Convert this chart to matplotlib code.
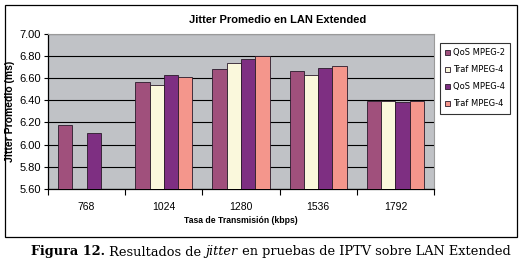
import matplotlib
matplotlib.use("Agg")
import matplotlib.pyplot as plt
import numpy as np
from matplotlib.patches import Rectangle

categories = ["768", "1024", "1280", "1536", "1792"]
series_names = ["QoS MPEG-2", "Traf MPEG-4", "QoS MPEG-4", "Traf MPEG-4"]
qos_mpeg2 = [6.18, 6.56, 6.68, 6.66, 6.39]
traf_mpeg4_a = [np.nan, 6.54, 6.73, 6.63, 6.39]
qos_mpeg4 = [6.10, 6.63, 6.77, 6.69, 6.38]
traf_mpeg4_b = [np.nan, 6.61, 6.80, 6.71, 6.39]
yticks = [5.60, 5.80, 6.00, 6.20, 6.40, 6.60, 6.80, 7.00]

colors = ["#A0507C", "#FAF8DC", "#7E2F82", "#F4968C"]
series = [qos_mpeg2, traf_mpeg4_a, qos_mpeg4, traf_mpeg4_b]

W, H = 523, 268
fig = plt.figure(figsize=(W / 100, H / 100), dpi=100)
fig.patch.set_facecolor("white")

# outer chart frame
fig.patches.append(Rectangle((5 / W, 1 - 237 / H), (517 - 5) / W, (237 - 5) / H,
                             transform=fig.transFigure, fill=False,
                             edgecolor="black", linewidth=0.9))

ax = fig.add_axes([48 / W, 1 - 189 / H, (434 - 48) / W, (189 - 33.5) / H])
ax.set_facecolor("#C0C2C6")
x = np.arange(len(categories))
bw = 0.185
for i, (vals, c, name) in enumerate(zip(series, colors, series_names)):
    pos = x + (i - 1.5) * bw
    ax.bar(pos, np.array(vals) - 5.6, bottom=5.6, width=bw, color=c,
           edgecolor="#2a1a2a", linewidth=0.6, label=name, zorder=3)

ax.set_ylim(5.6, 7.0)
ax.set_xlim(-0.5, len(categories) - 0.5)
ax.set_yticks(yticks)
ax.set_yticklabels([f"{v:.2f}" for v in yticks], fontsize=8, family="Liberation Sans")
ax.yaxis.grid(True, color="black", linewidth=0.8, zorder=1)
ax.set_axisbelow(True)
ax.set_xticks(x)
ax.set_xticklabels(categories, fontsize=7.5, family="Liberation Sans")
ax.tick_params(axis="x", length=0, pad=9)
ax.set_xticks(np.arange(len(categories) + 1) - 0.5, minor=True)
ax.tick_params(axis="x", which="minor", length=4, direction="out", width=0.8)
ax.tick_params(axis="y", length=3, direction="out", width=0.8, pad=2)
for s in ["top", "right"]:
    ax.spines[s].set_color("#9a9a9a")
    ax.spines[s].set_linewidth(0.8)
for s in ["left", "bottom"]:
    ax.spines[s].set_color("black")
    ax.spines[s].set_linewidth(0.9)

fig.text(278 / W, 1 - 20 / H, "Jitter Promedio en LAN Extended", fontsize=8,
         fontweight="bold", family="Liberation Sans", ha="center", va="center")
ax.set_xlabel("Tasa de Transmisión (kbps)", fontsize=6.2, fontweight="bold",
              family="Liberation Sans", labelpad=3)
ax.set_ylabel("Jitter Promedio (ms)", fontsize=7.5, fontweight="bold",
              family="Liberation Sans", labelpad=3)

leg = fig.legend(loc="upper left", bbox_to_anchor=(440 / W, 1 - 43 / H),
                 frameon=True, fancybox=False, edgecolor="black",
                 handlelength=0.6, handleheight=0.6, handletextpad=0.3,
                 labelspacing=0.95, borderpad=0.65, borderaxespad=0,
                 prop={"family": "Liberation Sans Narrow", "size": 6})
leg.get_frame().set_linewidth(0.8)

# caption
cap_y = 1 - 252 / H
parts = [("Figura 12.", dict(fontweight="bold")),
         (" Resultados de ", dict()),
         ("jitter", dict(style="italic")),
         (" en pruebas de IPTV sobre LAN Extended", dict())]
texts = []
for s, kw in parts:
    t = fig.text(0, cap_y, s, fontsize=9.25, family="DejaVu Serif", va="center", **kw)
    texts.append(t)
fig.canvas.draw()
r = fig.canvas.get_renderer()
widths = [t.get_window_extent(r).width for t in texts]
total = sum(widths)
cx = 271 - total / 2
for t, w in zip(texts, widths):
    t.set_x(cx / W)
    cx += w

fig.savefig("out.png", dpi=100)
